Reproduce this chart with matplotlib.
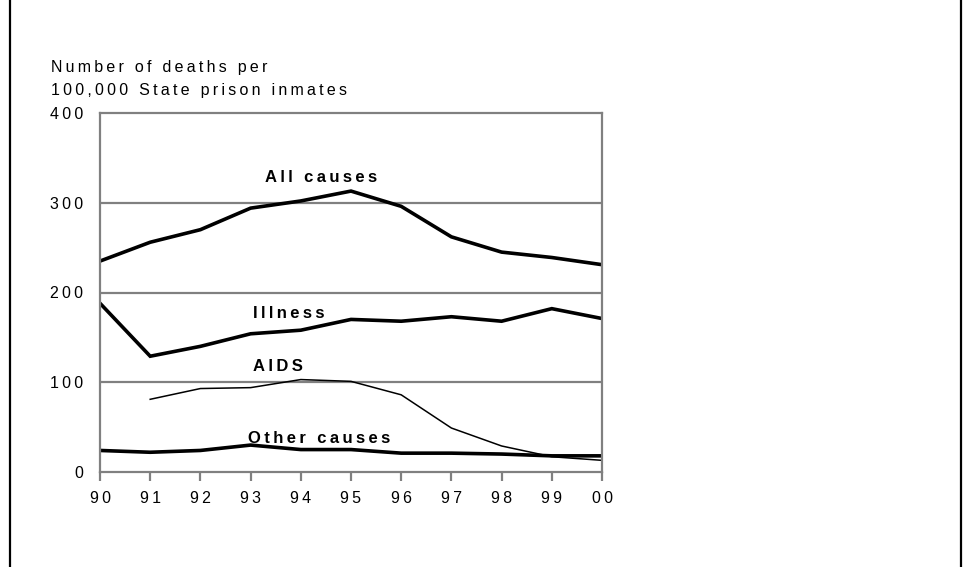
import matplotlib
matplotlib.use("Agg")
import matplotlib.pyplot as plt
from matplotlib.lines import Line2D

# Data (deaths per 100,000 State prison inmates)
years = ["90", "91", "92", "93", "94", "95", "96", "97", "98", "99", "00"]
all_causes = [235, 256, 270, 294, 302, 313, 296, 262, 245, 239, 231]
illness = [188, 129, 140, 154, 158, 170, 168, 173, 168, 182, 171]
aids_years = ["91", "92", "93", "94", "95", "96", "97", "98", "99", "00"]
aids = [81, 93, 94, 103, 101, 86, 49, 29, 17, 13]
other_causes = [24, 22, 24, 30, 25, 25, 21, 21, 20, 18, 18]

Y_LABEL = "Number of deaths per\n100,000 State prison inmates"
GRAY = "#808080"
FONT = ["Liberation Sans", "DejaVu Sans"]
W, H = 964, 567


def tracked(s):
    # the original uses wide letter spacing
    return "\u2009".join(s)


plt.rcParams["font.family"] = FONT
fig = plt.figure(figsize=(W / 100, H / 100), dpi=100)
ax = fig.add_axes([100 / W, 1 - 472 / H, 502 / W, 359 / H])

x = list(range(len(years)))
x_aids = [years.index(y) for y in aids_years]

ax.plot(x, all_causes, color="black", lw=2.6, solid_joinstyle="miter")
ax.plot(x, illness, color="black", lw=2.6, solid_joinstyle="miter")
ax.plot(x_aids, aids, color="black", lw=1.1)
ax.plot(x, other_causes, color="black", lw=2.6)

ax.set_xlim(0, len(years) - 1)
ax.set_ylim(0, 400)
ax.set_xticks(x)
ax.set_xticklabels([tracked(y) for y in years])
ax.set_yticks([0, 100, 200, 300, 400])
ax.set_yticklabels([tracked(str(v)) for v in [0, 100, 200, 300, 400]])
ax.tick_params(axis="x", direction="out", length=6.5, width=1.6, color=GRAY,
               labelsize=11.5, pad=7.5)
ax.tick_params(axis="y", length=0, labelsize=11.5, pad=12)
for v in [100, 200, 300]:
    ax.axhline(v, color=GRAY, lw=1.6, zorder=0)
for sp in ax.spines.values():
    sp.set_color(GRAY)
    sp.set_linewidth(1.6)

lab = dict(fontsize=12, fontweight="bold", color="black")
ax.text(4.4, 328, tracked("All causes"), ha="center", va="center", **lab)
ax.text(3.04, 177, tracked("Illness"), ha="left", va="center", **lab)
ax.text(3.04, 118, tracked("AIDS"), ha="left", va="center", **lab)
ax.text(2.94, 37, tracked("Other causes"), ha="left", va="center", **lab)

fig.text(51 / W, 1 - 95 / H, "\n".join(tracked(l) for l in Y_LABEL.split("\n")),
         ha="left", va="baseline", fontsize=11.5, linespacing=1.7)

# outer frame of the figure
for fx in [10 / W, 961 / W]:
    fig.add_artist(Line2D([fx, fx], [0, 1], color="black", lw=1.6,
                          transform=fig.transFigure))

fig.savefig("out.png", dpi=100)
